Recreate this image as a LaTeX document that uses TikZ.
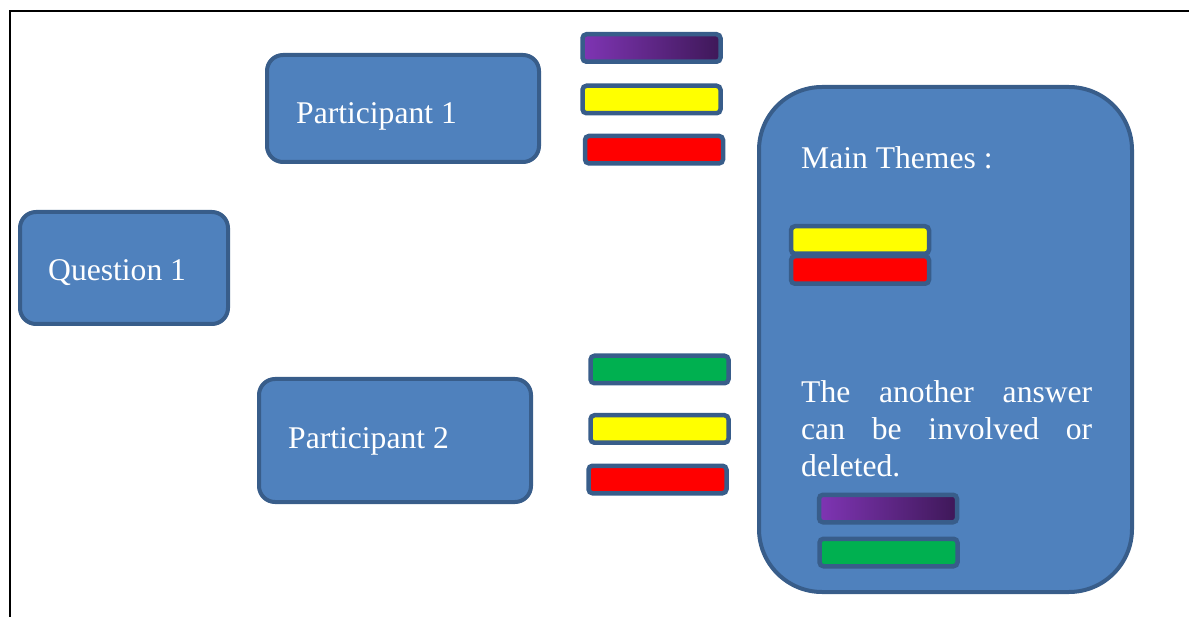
\documentclass[tikz,border=0pt]{standalone}
\usepackage{fontspec}
\setmainfont{Liberation Serif}
\definecolor{boxfill}{HTML}{4F81BD}
\definecolor{boxline}{HTML}{385D8A}
\definecolor{purpL}{HTML}{7F35B4}
\definecolor{purpR}{HTML}{3E1858}
\definecolor{grn}{HTML}{00B050}
\definecolor{ylw}{HTML}{FFFF00}
\definecolor{rd}{HTML}{FF0000}
\begin{document}
\begin{tikzpicture}[x=1pt,y=-1pt,
  bigbox/.style={draw=boxline,fill=boxfill,line width=4pt,rounded corners=16pt,inner sep=0pt},
  barbox/.style={draw=boxline,line width=4.5pt,rounded corners=4pt,inner sep=0pt,minimum width=138pt,minimum height=27.5pt},
  lbl/.style={text=white,font=\fontsize{31.6}{37}\selectfont,inner sep=0pt,anchor=base west},
  edge/.style={line width=2pt,draw=black}]
\useasboundingbox (0,0) rectangle (1189,617);
% frame lines
\coordinate (tl) at (10,11);
\coordinate (tr) at (1189,11);
\coordinate (bl) at (10,617);
\draw[edge] (tr) -- (tl) -- (bl);
% main boxes
\node[bigbox,minimum width=208pt,minimum height=112pt] (q1) at (124,268) {};
\node[bigbox,minimum width=272pt,minimum height=107pt] (p1) at (403,108.5) {};
\node[bigbox,minimum width=272pt,minimum height=123pt] (p2) at (395,440.5) {};
\node[bigbox,rounded corners=63pt,minimum width=373pt,minimum height=505pt] (mt) at (945.5,339.5) {};
% labels
\node[lbl] (q1t) at (48,281) {Question 1};
\node[lbl] (p1t) at (296,124) {Participant 1};
\node[lbl] (p2t) at (288,449) {Participant 2};
\node[lbl] (mtt) at (801,169) {Main Themes :};
\node[text=white,font=\fontsize{31.6}{37}\selectfont,inner sep=0pt,anchor=north west,
      text width=291pt,align=justify] (note) at (801,380.5)
  {\hyphenpenalty=10000 The another answer can be involved or deleted.};
% participant 1 bars
\node[barbox,left color=purpL,right color=purpR] (p1a) at (651.5,48) {};
\node[barbox,fill=ylw] (p1b) at (651.5,99.5) {};
\node[barbox,fill=rd] (p1c) at (654,149.7) {};
% participant 2 bars
\node[barbox,fill=grn] (p2a) at (659.5,369.5) {};
\node[barbox,fill=ylw] (p2b) at (659.5,429) {};
\node[barbox,fill=rd] (p2c) at (657.5,479.5) {};
% main themes bars
\node[barbox,fill=ylw] (m1) at (860,240) {};
\node[barbox,fill=rd] (m2) at (860,270) {};
\node[barbox,left color=purpL,right color=purpR] (m3) at (888,508.5) {};
\node[barbox,fill=grn] (m4) at (888.5,552.5) {};
\end{tikzpicture}
\end{document}
